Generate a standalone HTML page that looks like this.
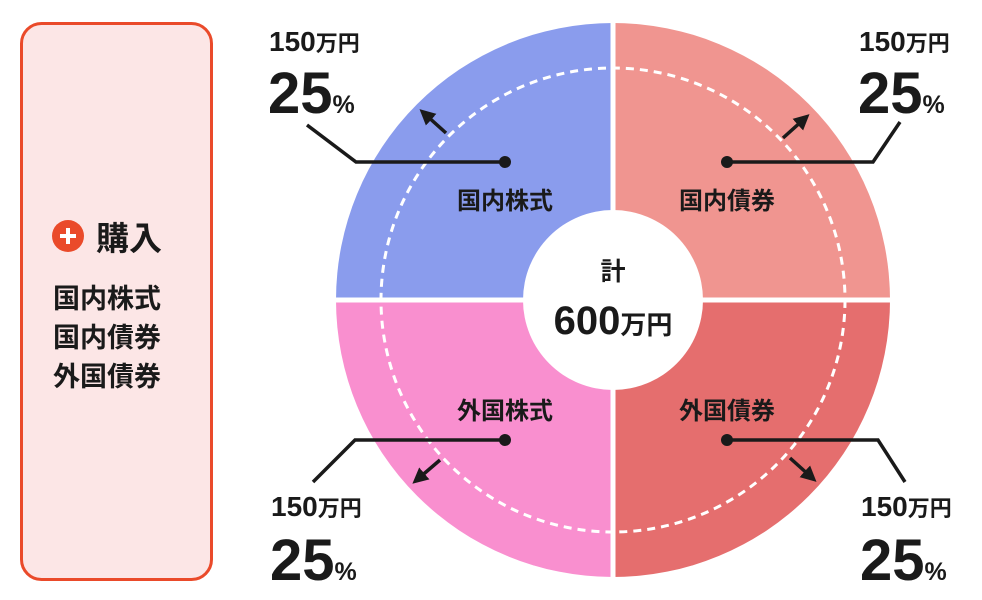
<!DOCTYPE html>
<html><head><meta charset="utf-8"><style>
body{margin:0;background:#fff;}
svg{display:block;font-family:"Liberation Sans","Noto Sans CJK JP",sans-serif;font-weight:bold;}
</style></head><body>
<svg width="982" height="600" viewBox="0 0 982 600">
<defs><marker id="ar" markerWidth="4.5" markerHeight="4.5" refX="2" refY="2.25" orient="auto" markerUnits="strokeWidth"><path d="M0,0 L4.5,2.25 L0,4.5 z" fill="#1a1a1a"/></marker></defs>
<rect x="21.5" y="23.5" width="190" height="556" rx="20" fill="#fce6e6" stroke="#ea4a2a" stroke-width="3"/>
<circle cx="68" cy="236" r="16" fill="#ea4a2a"/>
<path d="M60,236h16M68,228v16" stroke="#fff" stroke-width="4"/>
<text x="96" y="250" font-size="33" fill="#1a1a1a">購入</text>
<g font-size="27" fill="#1a1a1a"><text x="53" y="308">国内株式</text><text x="53" y="347">国内債券</text><text x="53" y="386">外国債券</text></g>
<g transform="translate(613,300)">
<path d="M0,0 L-277,0 A277,277 0 0 1 0,-277 Z" fill="#8a9ced"/>
<path d="M0,0 L0,-277 A277,277 0 0 1 277,0 Z" fill="#f09590"/>
<path d="M0,0 L-277,0 A277,277 0 0 0 0,277 Z" fill="#f98fcf"/>
<path d="M0,0 L0,277 A277,277 0 0 0 277,0 Z" fill="#e56e6e"/>
<path d="M-280,0H280M0,-280V280" stroke="#fff" stroke-width="5"/>
<circle r="232" fill="none" stroke="#fff" stroke-width="3" stroke-dasharray="8 6"/>
<circle r="90" fill="#fff"/>
</g>
<g fill="#1a1a1a" text-anchor="middle">
<text x="613" y="280" font-size="25">計</text>
<text x="613" y="334"><tspan font-size="40">600</tspan><tspan font-size="26">万円</tspan></text>
<g font-size="24"><text x="505" y="209">国内株式</text><text x="727" y="209">国内債券</text><text x="505" y="419">外国株式</text><text x="727" y="419">外国債券</text></g>
</g>
<g stroke="#1a1a1a" stroke-width="3.5" fill="none">
<path d="M505,162H356L307,125"/><path d="M727,162H873L900,122"/>
<path d="M505,440H355L313,482"/><path d="M727,440H878L905,482"/>
<path d="M446,133L426,115" marker-end="url(#ar)"/><path d="M783,138L803,120" marker-end="url(#ar)"/>
<path d="M440,460L419,478" marker-end="url(#ar)"/><path d="M790,458L810,476" marker-end="url(#ar)"/>
</g>
<g fill="#1a1a1a"><circle cx="505" cy="162" r="6"/><circle cx="727" cy="162" r="6"/><circle cx="505" cy="440" r="6"/><circle cx="727" cy="440" r="6"/></g>
<g fill="#1a1a1a">
<text x="269" y="51"><tspan font-size="28">150</tspan><tspan font-size="22">万円</tspan></text>
<text x="268" y="113"><tspan font-size="58">25</tspan><tspan font-size="25">%</tspan></text>
<text x="859" y="51"><tspan font-size="28">150</tspan><tspan font-size="22">万円</tspan></text>
<text x="858" y="113"><tspan font-size="58">25</tspan><tspan font-size="25">%</tspan></text>
<text x="271" y="516"><tspan font-size="28">150</tspan><tspan font-size="22">万円</tspan></text>
<text x="270" y="580"><tspan font-size="58">25</tspan><tspan font-size="25">%</tspan></text>
<text x="861" y="516"><tspan font-size="28">150</tspan><tspan font-size="22">万円</tspan></text>
<text x="860" y="580"><tspan font-size="58">25</tspan><tspan font-size="25">%</tspan></text>
</g>
</svg>
</body></html>
